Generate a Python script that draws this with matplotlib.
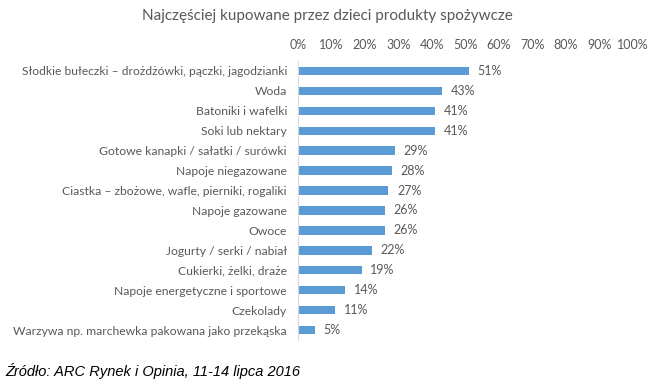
import matplotlib.pyplot as plt

categories = [
    "Słodkie bułeczki – drożdżówki, pączki, jagodzianki",
    "Woda",
    "Batoniki i wafelki",
    "Soki lub nektary",
    "Gotowe kanapki / sałatki / surówki",
    "Napoje niegazowane",
    "Ciastka – zbożowe, wafle, pierniki, rogaliki",
    "Napoje gazowane",
    "Owoce",
    "Jogurty / serki / nabiał",
    "Cukierki, żelki, draże",
    "Napoje energetyczne i sportowe",
    "Czekolady",
    "Warzywa np. marchewka pakowana jako przekąska",
]
values = [51, 43, 41, 41, 29, 28, 27, 26, 26, 22, 19, 14, 11, 5]
ticks = [0, 10, 20, 30, 40, 50, 60, 70, 80, 90, 100]

plt.rcParams['font.family'] = ['Lato', 'DejaVu Sans']
gray = '#595959'
bar_color = '#5b9bd5'

fig = plt.figure(figsize=(6.55, 3.86), dpi=100)
ax = fig.add_axes([298 / 655, 1 - 340 / 386, 335 / 655, 279 / 386])

y = list(range(len(categories)))
ax.barh(y, values, height=0.42, color=bar_color)
for yi, v in zip(y, values):
    ax.text(v + 2.6, yi, f"{v}%", va='center', ha='left', fontsize=9, color=gray)

ax.set_xlim(0, 100)
ax.set_ylim(len(categories) - 0.5, -0.5)
ax.set_yticks(y)
ax.set_yticklabels(categories, fontsize=8.7, color=gray)
ax.set_xticks(ticks)
ax.set_xticklabels([f"{t}%" for t in ticks], fontsize=9, color=gray)
ax.xaxis.tick_top()
ax.tick_params(axis='both', length=0)
ax.tick_params(axis='x', pad=7)
ax.tick_params(axis='y', pad=8)
for side in ['top', 'right', 'bottom']:
    ax.spines[side].set_visible(False)
ax.spines['left'].set_color('#d9d9d9')
ax.spines['left'].set_linewidth(0.8)

fig.text(0.5, 1 - 16 / 386, "Najczęściej kupowane przez dzieci produkty spożywcze",
         ha='center', va='center', fontsize=11, color=gray)
fig.text(5 / 655, 1 - 371 / 386, "Źródło: ARC Rynek i Opinia, 11-14 lipca 2016",
         ha='left', va='center', fontsize=10.5, style='italic', color='black',
         family=['Liberation Sans', 'DejaVu Sans'])

fig.savefig('out.png', dpi=100)
